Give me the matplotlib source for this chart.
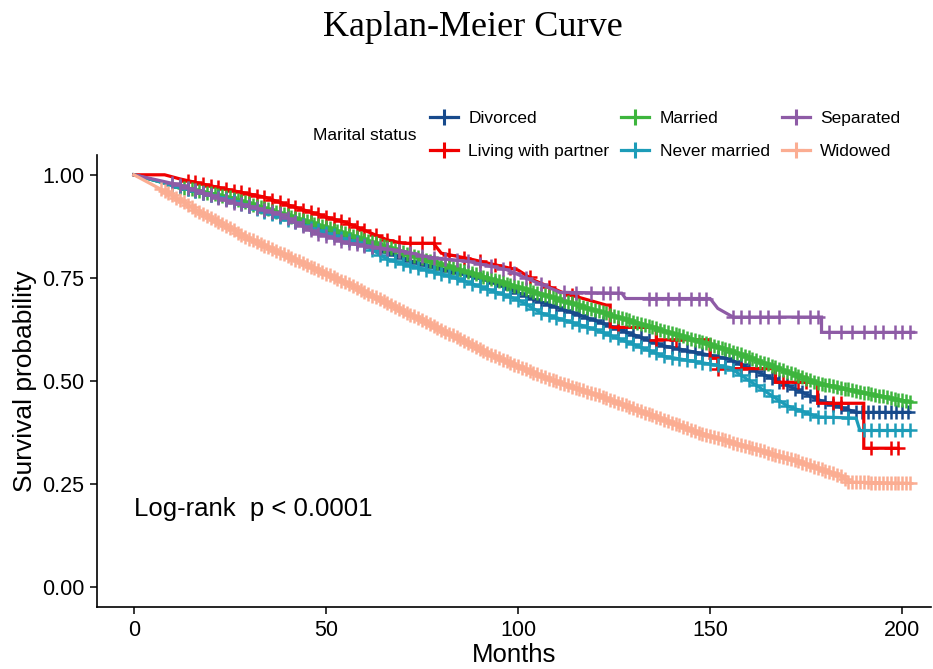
import matplotlib
matplotlib.use("Agg")
import matplotlib.pyplot as plt
import numpy as np

plt.rcParams['font.family'] = ['Liberation Sans', 'DejaVu Sans']

# ---------------- data ----------------
groups = ["Divorced", "Living with partner", "Married", "Never married", "Separated", "Widowed"]
colors = ["#174A8C", "#F00000", "#3DB53D", "#1C9CB8", "#8E5BA6", "#FBAD92"]

div_t = [0, 10, 25, 50, 74, 92, 105, 120, 138, 155, 170, 178, 188, 202]
div_s = [1.0, 0.975, 0.94, 0.865, 0.785, 0.745, 0.695, 0.647, 0.585, 0.553, 0.49, 0.455, 0.424, 0.424]
div_c = [12, 14, 16, 18, 20, 22, 24, 26, 28, 30, 32, 34, 36, 38, 40, 42, 44, 46, 48, 50, 52, 54, 56,
         58, 60, 62, 64, 66, 68, 70, 72, 74, 76, 78, 80, 82, 84, 86, 88, 90, 92, 94, 96, 98, 100, 102,
         104, 106, 108, 110, 112, 114, 116, 118, 120, 122, 124, 126, 128, 130, 132, 134, 136, 138,
         140, 142, 144, 146, 148, 150, 152, 154, 156, 158, 160, 162, 164, 166, 168, 170, 172, 174,
         176, 178, 180, 182, 184, 186, 188, 189.5, 191, 192.5, 194, 195.5, 197, 198.5, 200, 201.5]

lwp_t = [0, 8, 12, 25, 34, 38, 51, 55, 66, 70, 78, 80, 87, 100, 104, 112, 123, 124, 124, 136, 136,
         150, 150, 152, 152, 167, 167, 178, 178, 190, 190, 199]
lwp_s = [1.0, 1.0, 0.99, 0.963, 0.946, 0.933, 0.895, 0.885, 0.842, 0.834, 0.834, 0.81, 0.797, 0.769,
         0.745, 0.713, 0.684, 0.684, 0.63, 0.63, 0.60, 0.60, 0.555, 0.555, 0.53, 0.53, 0.497, 0.497,
         0.446, 0.446, 0.337, 0.337]
lwp_c = [14, 16, 18, 20, 22, 24, 26, 28, 30, 32, 34, 36, 38, 40, 42, 44, 46, 48, 50, 52, 54, 56, 58,
         60, 63, 66, 69, 72, 75, 78, 82, 86, 90, 94, 98, 103, 108, 114, 126, 136, 141, 152, 158, 169,
         173, 175, 182, 184, 192, 197, 199]

mar_t = [0, 10, 25, 51, 74, 100, 129, 155, 178, 202]
mar_s = [1.0, 0.975, 0.945, 0.87, 0.80, 0.728, 0.647, 0.575, 0.495, 0.449]
mar_c = [12, 13, 14, 15, 16, 17, 18, 19, 20, 21, 22, 23, 24, 25, 26, 27, 28, 29, 30, 31, 32, 33, 34,
         35, 36, 37, 38, 39, 40, 41, 42, 43, 44, 45, 46, 47, 48, 49, 50, 51, 52, 53, 54, 55, 56, 57,
         58, 59, 60, 61, 62, 63, 64, 65, 66, 67, 68, 69, 70, 71, 72, 73, 74, 75, 76, 77, 78, 79, 80,
         81, 82, 83, 84, 85, 86, 87, 88, 89, 90, 91, 92, 93, 94, 95, 96, 97, 98, 99, 100, 101, 102,
         103, 104, 105, 106, 107, 108, 109, 110, 111, 112, 113, 114, 115, 116, 117, 118, 119, 120,
         121, 122, 123, 124, 125, 126, 127, 128, 129, 130, 131, 132, 133, 134, 135, 136, 137, 138,
         139, 140, 141, 142, 143, 144, 145, 146, 147, 148, 149, 150, 151, 152, 153, 154, 155, 156,
         157, 158, 159, 160, 161, 162, 163, 164, 165, 166, 167, 168, 169, 170, 171, 172, 173, 174,
         175, 176, 177, 178, 179, 180, 181, 182, 183, 184, 185, 186, 187, 188, 189, 190, 191, 192,
         193, 194, 195, 196, 197, 198, 199, 200, 201, 202]

nev_t = [0, 10, 25, 48, 60, 66, 83, 100, 106, 120, 138, 155, 170, 178, 188, 189, 202]
nev_s = [1.0, 0.975, 0.94, 0.865, 0.83, 0.795, 0.752, 0.697, 0.665, 0.625, 0.56, 0.533, 0.44, 0.413,
         0.41, 0.38, 0.38]
nev_c = [10, 12, 14, 16, 18, 20, 22, 24, 26, 28, 30, 32, 34, 36, 38, 40, 42, 44, 46, 48, 50, 52, 54,
         56, 58, 60, 62, 64, 66, 68, 70, 72, 74, 76, 78, 80, 82, 84, 86, 88, 90, 92, 94, 96, 98, 100,
         102, 104, 106, 108, 110, 112, 114, 116, 118, 120, 122, 124, 126, 128, 130, 132, 134, 136,
         138, 140, 142, 144, 146, 148, 150, 152, 154, 156, 158, 160, 162, 164, 166, 168, 170, 172,
         174, 176, 178, 180, 182, 186, 190, 192, 194, 196, 198, 200, 202]

sep_t = [0, 12, 25, 38, 47, 51, 55, 70, 77, 87, 97, 104, 111, 127, 128, 150, 152, 156, 179, 179, 203]
sep_s = [1.0, 0.975, 0.935, 0.905, 0.86, 0.85, 0.835, 0.815, 0.80, 0.79, 0.77, 0.742, 0.715, 0.713,
         0.70, 0.70, 0.676, 0.655, 0.655, 0.618, 0.618]
sep_c = [10, 12, 14, 16, 18, 20, 22, 24, 26, 28, 30, 32, 34, 36, 38, 40, 42, 44, 46, 48, 50, 52, 54,
         56, 58, 60, 62, 64, 66, 69, 72, 75, 78, 81, 84, 87, 90, 93, 96, 99, 102, 106, 112, 115, 119,
         122, 124, 126, 134, 136, 139, 142, 145, 147, 149, 156, 158, 160, 163, 165, 168, 173, 176,
         178, 181, 184, 187, 190, 193, 195, 198, 200, 202]

wid_t = [0, 5, 10, 17, 30, 43, 56, 69, 82, 95, 108, 121, 134, 147, 160, 173, 184, 186, 202]
wid_s = [1.0, 0.975, 0.95, 0.91, 0.845, 0.79, 0.735, 0.675, 0.615, 0.555, 0.505, 0.465, 0.42, 0.375,
         0.34, 0.305, 0.27, 0.255, 0.252]
wid_c = [7, 8, 9, 10, 11, 12, 13, 14, 15, 16, 17, 18, 19, 20, 21, 22, 23, 24, 25, 26, 27, 28, 29, 30,
         31, 32, 33, 34, 35, 36, 37, 38, 39, 40, 41, 42, 43, 44, 45, 46, 47, 48, 49, 50, 51, 52, 53,
         54, 55, 56, 57, 58, 59, 60, 61, 62, 63, 64, 65, 66, 67, 68, 69, 70, 71, 72, 73, 74, 75, 76,
         77, 78, 79, 80, 81, 82, 83, 84, 85, 86, 87, 88, 89, 90, 91, 92, 93, 94, 95, 96, 97, 98, 99,
         100, 101, 102, 103, 104, 105, 106, 107, 108, 109, 110, 111, 112, 113, 114, 115, 116, 117,
         118, 119, 120, 121, 122, 123, 124, 125, 126, 127, 128, 129, 130, 131, 132, 133, 134, 135,
         136, 137, 138, 139, 140, 141, 142, 143, 144, 145, 146, 147, 148, 149, 150, 151, 152, 153,
         154, 155, 156, 157, 158, 159, 160, 161, 162, 163, 164, 165, 166, 167, 168, 169, 170, 171,
         172, 173, 174, 175, 176, 177, 178, 179, 180, 181, 182, 183, 184, 185, 186, 187, 188, 189,
         190, 191, 192, 193, 194, 195, 196, 197, 198, 199, 200, 201, 202]

curves = [(div_t, div_s, div_c), (lwp_t, lwp_s, lwp_c), (mar_t, mar_s, mar_c),
          (nev_t, nev_s, nev_c), (sep_t, sep_s, sep_c), (wid_t, wid_s, wid_c)]

x_ticks = [0, 50, 100, 150, 200]
y_ticks = [0.00, 0.25, 0.50, 0.75, 1.00]
y_ticklabels = ["0.00", "0.25", "0.50", "0.75", "1.00"]

# ---------------- figure ----------------
W, H = 933, 669
fig = plt.figure(figsize=(W / 100, H / 100), dpi=100)
ax = fig.add_axes([97 / W, 1 - 607 / H, (931 - 97) / W, (607 - 155) / H])

handles = []
for name, col, (t, s, c) in zip(groups, colors, curves):
    t = np.asarray(t, float)
    s = np.asarray(s, float)
    c = np.asarray(c, float)
    ax.plot(t, s, color=col, lw=2.3, solid_joinstyle='miter', zorder=2)
    cy = []
    for ct in c:
        idx = np.searchsorted(t, ct, side='right') - 1
        idx = min(max(idx, 0), len(t) - 2)
        t0, t1 = t[idx], t[idx + 1]
        if t1 == t0:
            cy.append(s[idx + 1])
        else:
            cy.append(s[idx] + (s[idx + 1] - s[idx]) * (ct - t0) / (t1 - t0))
    ax.plot(c, cy, ls='none', marker='+', ms=10.5, mew=1.8, color=col, zorder=2)
    h, = ax.plot([], [], color=col, lw=2.3, marker='+', ms=12, mew=2.2)
    handles.append(h)

ax.set_xlim(-9.6, 207.5)
ax.set_ylim(-0.048, 1.048)
ax.set_xticks(x_ticks)
ax.set_yticks(y_ticks)
ax.set_yticklabels(y_ticklabels)
for sp in ['top', 'right']:
    ax.spines[sp].set_visible(False)
for sp in ['left', 'bottom']:
    ax.spines[sp].set_linewidth(1.2)
ax.tick_params(axis='both', labelsize=15.5, length=5, width=1.1, colors='black', pad=4)
ax.set_xlabel("Months", fontsize=18.5, labelpad=2)
ax.set_ylabel("Survival probability", fontsize=19, labelpad=4)

ax.text(0, 0.19, "Log-rank  p < 0.0001", fontsize=18.5, va='center', ha='left')

fig.text(473 / W, 1 - 28 / H, "Kaplan-Meier Curve", family='Liberation Serif',
         fontsize=26, ha='center', va='center')

fig.text(313 / W, 1 - 135 / H, "Marital status", fontsize=12.5, ha='left', va='center')
fig.legend(handles, groups, ncol=3, loc='upper left', bbox_to_anchor=(430 / W, 1 - 111 / H),
           frameon=False, fontsize=12.5, borderpad=0, handlelength=1.6, handletextpad=0.6,
           labelspacing=1.0, columnspacing=0.7, borderaxespad=0)

fig.savefig("out.png", dpi=100)
